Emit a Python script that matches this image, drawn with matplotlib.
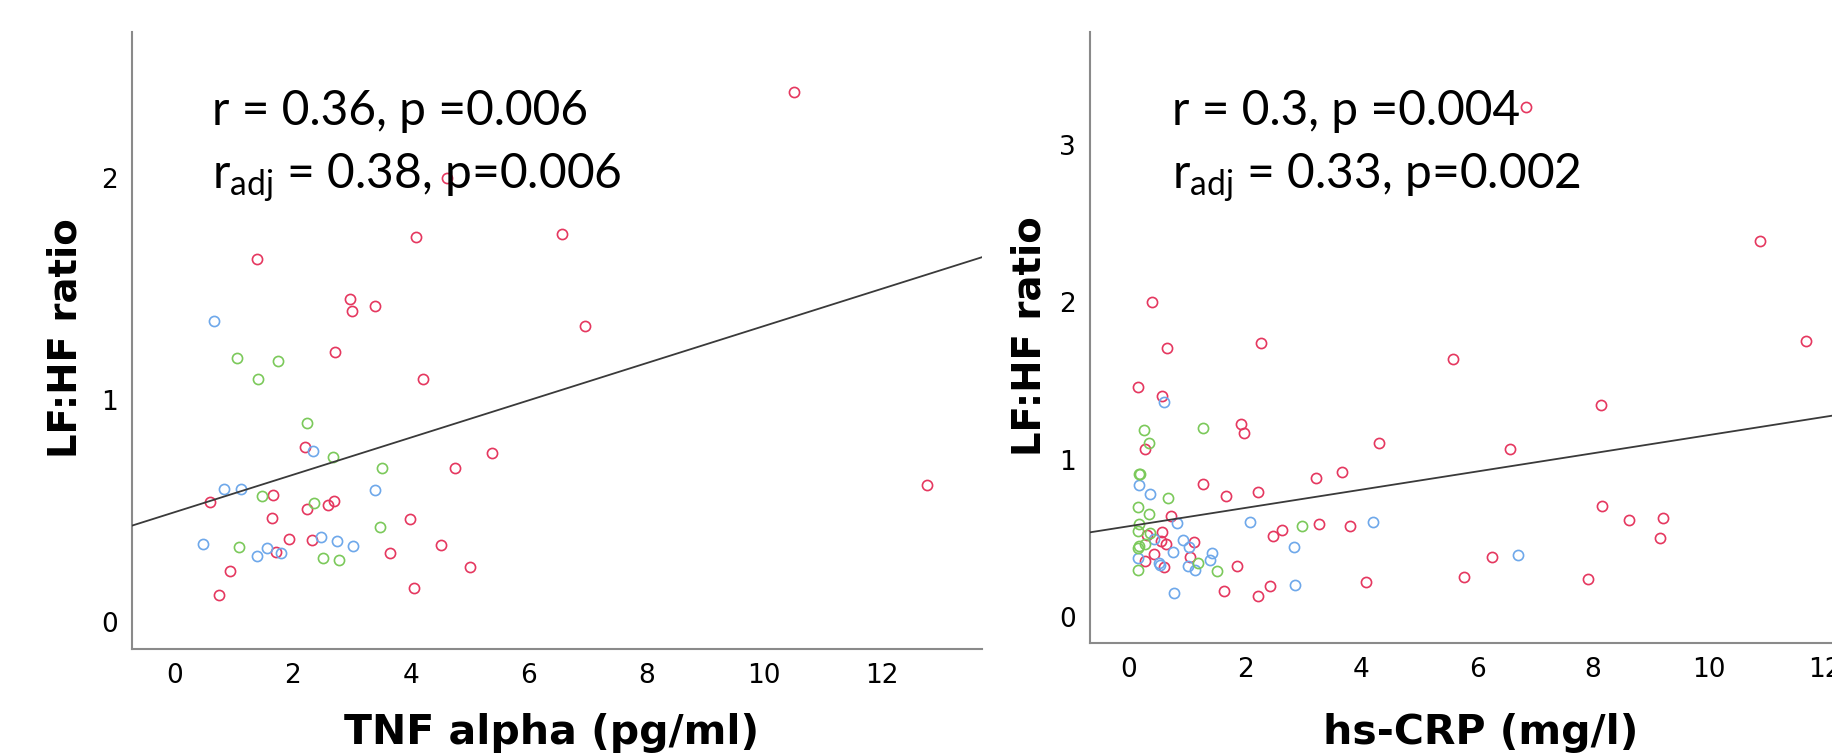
import matplotlib
matplotlib.use("Agg")
import matplotlib.pyplot as plt
import numpy as np

plt.rcParams['mathtext.fontset'] = 'custom'
plt.rcParams['mathtext.rm'] = 'Lato'
plt.rcParams['mathtext.it'] = 'Lato:italic'

# ---------------- data: TNF alpha panel ----------------
tnf_red_x = [4.61, 1.39, 4.09, 6.565, 2.966, 3.01, 3.396, 6.966, 2.72, 4.205, 10.5, 12.76,
             2.202, 4.749, 5.382, 0.594, 1.67, 2.247, 2.603, 2.694, 1.652, 3.996, 1.71,
             1.935, 2.326, 3.645, 4.511, 5.014, 0.929, 0.752, 4.058]
tnf_red_y = [2.00, 1.635, 1.734, 1.747, 1.457, 1.40, 1.424, 1.334, 1.217, 1.093, 2.388, 0.618,
             0.787, 0.693, 0.761, 0.540, 0.570, 0.508, 0.528, 0.544, 0.468, 0.465, 0.314,
             0.373, 0.370, 0.31, 0.345, 0.245, 0.230, 0.119, 0.152]
tnf_blue_x = [0.668, 2.348, 0.826, 1.126, 3.40, 0.475, 1.397, 1.567, 1.80, 2.474, 2.756, 3.017]
tnf_blue_y = [1.356, 0.771, 0.597, 0.599, 0.593, 0.352, 0.295, 0.334, 0.311, 0.383, 0.363, 0.340]
tnf_green_x = [1.053, 1.743, 1.415, 2.247, 2.688, 3.514, 1.483, 2.354, 3.486, 1.087, 2.52, 2.786]
tnf_green_y = [1.188, 1.174, 1.093, 0.898, 0.744, 0.692, 0.567, 0.535, 0.429, 0.336, 0.287, 0.280]
tnf_fit = (0.495, 0.0839)  # intercept, slope

# ---------------- data: hs-CRP panel ----------------
crp_red_x = [0.402, 0.662, 2.273, 5.58, 6.84, 10.875, 11.675, 8.136, 6.57, 8.148, 8.626, 9.206,
             9.149, 6.26, 5.77, 7.918, 0.155, 0.575, 1.928, 1.98, 0.276, 4.31, 1.283, 1.669,
             2.215, 3.216, 3.67, 0.72, 0.305, 0.564, 0.552, 0.639, 1.122, 2.49, 2.636, 3.274,
             3.81, 0.432, 0.271, 0.609, 1.058, 1.864, 1.64, 2.232, 2.439, 4.079]
crp_red_y = [2.004, 1.707, 1.739, 1.639, 3.24, 2.392, 1.752, 1.347, 1.069, 0.702, 0.615, 0.628,
             0.503, 0.382, 0.254, 0.238, 1.461, 1.406, 1.228, 1.170, 1.065, 1.107, 0.844, 0.770,
             0.793, 0.884, 0.923, 0.640, 0.520, 0.537, 0.480, 0.460, 0.475, 0.515, 0.550, 0.590,
             0.579, 0.397, 0.354, 0.316, 0.380, 0.322, 0.163, 0.130, 0.197, 0.219]
crp_blue_x = [6.70, 0.599, 0.178, 0.357, 0.823, 0.426, 0.937, 1.041, 2.077, 4.207, 0.76, 0.155,
              0.513, 0.535, 1.018, 1.145, 1.398, 1.433, 2.843, 0.782, 2.87]
crp_blue_y = [0.392, 1.366, 0.836, 0.781, 0.598, 0.492, 0.486, 0.445, 0.604, 0.604, 0.414, 0.371,
              0.344, 0.329, 0.321, 0.297, 0.361, 0.403, 0.443, 0.151, 0.201]
crp_green_x = [0.259, 1.283, 0.351, 0.167, 0.19, 0.679, 0.155, 0.345, 0.178, 0.155, 0.36, 0.155,
               0.18, 0.276, 2.975, 1.186, 1.519, 0.155]
crp_green_y = [1.186, 1.20, 1.107, 0.910, 0.91, 0.755, 0.700, 0.653, 0.590, 0.543, 0.53, 0.439,
               0.45, 0.462, 0.577, 0.344, 0.291, 0.297]
crp_fit = (0.576, 0.058)

x_ticks_tnf = [0, 2, 4, 6, 8, 10, 12]
y_ticks_tnf = [0, 1, 2]
x_ticks_crp = [0, 2, 4, 6, 8, 10, 12]
y_ticks_crp = [0, 1, 2, 3]

RED = '#E5375F'
BLUE = '#6EA8EA'
GREEN = '#7BC95A'
SPINE = '#8a8a8a'

W, H = 1832, 753
fig = plt.figure(figsize=(W / 100, H / 100), dpi=100)


def make_axes(l, r, t, b):
    return fig.add_axes([l / W, 1 - b / H, (r - l) / W, (b - t) / H])


ax1 = make_axes(131.7, 982, 32, 649.3)
ax2 = make_axes(1090, 1832, 32, 643.3)


def style(ax, xlim, ylim, xt, yt):
    ax.set_xlim(*xlim)
    ax.set_ylim(*ylim)
    for s in ['top', 'right']:
        ax.spines[s].set_visible(False)
    for s in ['left', 'bottom']:
        ax.spines[s].set_color(SPINE)
        ax.spines[s].set_linewidth(1.5)
    ax.set_xticks(xt)
    ax.set_yticks(yt)
    ax.tick_params(length=0, labelsize=19, pad=10)
    for lab in ax.get_xticklabels() + ax.get_yticklabels():
        lab.set_family('DejaVu Sans')


def scatter(ax, xs, ys, color):
    ax.plot(xs, ys, linestyle='none', marker='o', markersize=7.3,
            markerfacecolor='none', markeredgecolor=color, markeredgewidth=1.2)


def fit_line(ax, fit):
    xl = np.array(ax.get_xlim())
    ax.plot(xl, fit[0] + fit[1] * xl, color='#3a3a3a', linewidth=1.3, zorder=3)


style(ax1, (-0.735, 13.70), (-0.124, 2.66), x_ticks_tnf, y_ticks_tnf)
style(ax2, (-0.673, 12.12), (-0.169, 3.72), x_ticks_crp, y_ticks_crp)

for ax, groups, fit in [
    (ax1, [(tnf_red_x, tnf_red_y, RED), (tnf_blue_x, tnf_blue_y, BLUE), (tnf_green_x, tnf_green_y, GREEN)], tnf_fit),
    (ax2, [(crp_red_x, crp_red_y, RED), (crp_blue_x, crp_blue_y, BLUE), (crp_green_x, crp_green_y, GREEN)], crp_fit),
]:
    for xs, ys, c in groups:
        scatter(ax, xs, ys, c)
    fit_line(ax, fit)

xlabel_kw = dict(fontsize=29.5, fontweight='bold', family='DejaVu Sans')
ylabel_kw = dict(fontsize=27.8, fontweight='bold', family='DejaVu Sans')
ax1.text(-0.078, 0.504, 'LF:HF ratio', rotation=90, ha='center', va='center',
         transform=ax1.transAxes, **ylabel_kw)
ax2.text(-0.081, 0.503, 'LF:HF ratio', rotation=90, ha='center', va='center',
         transform=ax2.transAxes, **ylabel_kw)
ax1.text(0.494, -0.1356, 'TNF alpha (pg/ml)', ha='center', va='center',
         transform=ax1.transAxes, **xlabel_kw)
ax2.text(0.526, -0.147, 'hs-CRP (mg/l)', ha='center', va='center',
         transform=ax2.transAxes, **xlabel_kw)

ann_kw = dict(fontsize=34.5, family='Lato', color='black', zorder=5)
fig.text(211.7 / W, 1 - 125 / H, 'r = 0.36, p =0.006', ha='left', va='baseline', **ann_kw)
fig.text(211.7 / W, 1 - 188 / H, r'r$_{\mathrm{adj}}$ = 0.38, p=0.006', ha='left', va='baseline', **ann_kw)
fig.text(1171.7 / W, 1 - 125 / H, 'r = 0.3, p =0.004', ha='left', va='baseline', **ann_kw)
fig.text(1171.7 / W, 1 - 188 / H, r'r$_{\mathrm{adj}}$ = 0.33, p=0.002', ha='left', va='baseline', **ann_kw)

fig.savefig('out.png', dpi=100)
